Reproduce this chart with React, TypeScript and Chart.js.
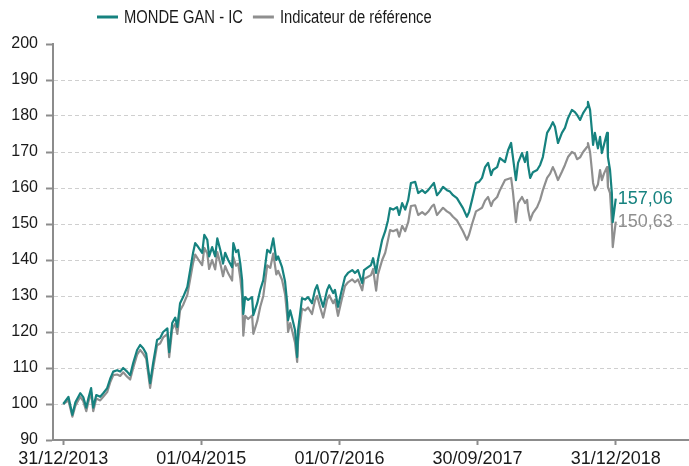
import React, { useEffect, useRef } from "react";
import { Chart, registerables } from "chart.js";

Chart.register(...registerables);

const seriesNames = ["MONDE GAN - IC", "Indicateur de référence"];
const seriesColors = ["#16827f", "#8f8f8f"];
const endLabels = ["157,06", "150,63"];

const tickDays = [0, 456, 913, 1369, 1826];
const tickLabels = ["31/12/2013", "01/04/2015", "01/07/2016", "30/09/2017", "31/12/2018"];

// days since 31/12/2013
const days = [
  0, 17, 30, 40, 56, 66, 76, 83, 92, 99, 109, 122, 132, 145, 155, 165, 178, 188, 198, 211, 221, 231, 244, 254, 264, 274, 287, 297, 310, 320, 330, 344, 350, 360, 370,
  377, 386, 396, 410, 419, 429, 436, 446, 459, 466, 476, 482, 492, 502, 509, 519, 528, 535, 545, 558, 562, 571, 578, 585, 591, 595, 601, 611, 624, 628, 641, 651, 661, 674, 684, 694, 704, 710, 723, 733,
  740, 743, 750, 756, 766, 773, 776, 789, 799, 809, 822, 832, 839, 849, 859, 872, 879, 892, 898, 908, 918, 931, 941, 955, 964, 974, 988, 994, 1004, 1017, 1024, 1034, 1040, 1054, 1064,
  1073, 1080, 1090, 1103, 1110, 1120, 1130, 1140, 1149, 1163, 1173, 1186, 1196, 1206, 1219, 1225, 1235, 1245, 1255, 1268, 1278, 1288, 1301, 1311, 1321, 1334, 1341, 1351, 1364, 1374, 1384, 1394, 1404, 1414, 1420, 1434, 1443,
  1460, 1470, 1480, 1486, 1496, 1503, 1516, 1526, 1533, 1536, 1543, 1552, 1566, 1576, 1585, 1599, 1609, 1618, 1625, 1635, 1648, 1658, 1668, 1681, 1691, 1698, 1708, 1718, 1731, 1734, 1741, 1747, 1751, 1757, 1767, 1774, 1780, 1787, 1797, 1800, 1807, 1813, 1816, 1826,
];

const fund = [
  100, 102, 97, 100.5, 103, 101.9, 99, 101.6, 104.4, 99, 102.5, 102, 103, 104.4, 107, 109, 109.4, 109, 110, 109, 108, 111.4, 115, 116.4, 115.5, 114, 105.8, 111.4, 117.8, 118.3, 120, 121, 114.4, 122.5, 124,
  121.4, 128, 129.7, 132.5, 137, 142, 144.7, 143.6, 142, 147, 145.6, 141, 143.6, 141, 146, 142.8, 139, 142, 140, 138, 144.7, 142.2, 142.8, 139, 134.4, 125, 129.7, 128.9, 129.7, 124.7, 128, 131.7, 134.4, 142.8, 142, 146, 140, 141, 138, 134,
  128, 123.3, 126, 124, 120.5, 113, 120.5, 129.4, 129, 129.7, 128, 131.7, 133, 129.7, 127, 131.7, 133, 130.8, 131.7, 127, 130.8, 135.3, 136.4, 137.2, 136.4, 137.2, 133.6, 137.2, 137.8, 138.6, 140.5, 136.4, 140, 145.6, 148,
  151, 154.4, 154, 154.7, 152.5, 155.8, 154, 156.7, 161.4, 161.7, 158.6, 159.4, 158.6, 159.4, 160.8, 161.4, 158, 159, 160.3, 159.4, 159, 158, 157.2, 155.8, 154.4, 152, 153.3, 156.7, 161.4, 161.7, 162.8, 165.8, 167, 163.6, 165, 165.8, 168.3,
  167.2, 170.5, 172.5, 168.6, 162.2, 167, 169.7, 167.2, 170, 166.4, 162.8, 164.4, 165, 166.4, 168.6, 175.3, 176.7, 178.3, 177, 172.5, 175.3, 176.7, 179.4, 181.7, 181.1, 180.3, 178.9, 180.8, 182.5, 183.9, 181.7, 176.1, 172, 175.3, 171, 174.2, 169.7, 172, 175.3, 168.6, 165, 158.6, 150.5, 157.06,
];

const bench = [
  100, 101, 96.5, 99.5, 102, 100.8, 98, 100.6, 103.2, 98, 101.5, 101, 102, 103.3, 106, 108, 108.2, 107.8, 108.8, 107.6, 106.8, 110, 113.7, 115, 114, 112.6, 104.5, 110, 116.3, 116.8, 118.5, 119.4, 113, 120.8, 122.3,
  119.5, 126, 127.5, 130.3, 134.5, 139.2, 141.5, 140.2, 138.6, 143.4, 141.8, 137.5, 140, 137.4, 142.2, 139, 135.5, 138.3, 136.3, 134.3, 140.8, 138.4, 139, 135, 130, 119, 124.5, 123.6, 124.6, 119.5, 123, 127, 130, 138.5, 137.8, 141.8, 136, 137, 134.5, 130.5,
  124.5, 120, 122.5, 120.5, 117, 111.7, 117.5, 126.5, 126, 126.8, 125, 128.8, 130, 126.8, 124, 129, 130.2, 128, 129, 124.5, 128.2, 132.8, 133.8, 134.6, 133.8, 134.6, 131.6, 134.8, 135.2, 135.8, 137.5, 131.5, 136, 140, 142,
  145.5, 148.3, 148, 148.5, 146.5, 149.5, 148, 150.5, 155, 155.2, 152.5, 153.3, 152.6, 153.4, 155, 155.4, 152.5, 153.5, 154.5, 153.5, 153, 152, 151, 149.5, 148, 145.6, 147, 150, 153.5, 154, 154.5, 156.5, 157.5, 155, 156.3, 157.5, 159.4,
  162.2, 162.5, 162.8, 159, 150.5, 155.8, 157.5, 155.8, 156.7, 154, 151, 153, 154.7, 156.7, 159.4, 162.8, 164, 165.8, 164.5, 162.2, 164.5, 166.4, 168.6, 170, 169.5, 168, 168.5, 170, 171.4, 172.5, 170, 165, 161.4, 159.4, 161, 165, 162.2, 164, 165.8, 160.3, 158.6, 150.3, 143.6, 150.63,
];

const Y_MIN = 90;
const Y_MAX = 200;
const Y_STEP = 10;

const AXIS_COLOR = "#8c8c8c";
const GRID_COLOR = "#cfcfcf";
const TEXT_COLOR = "#1a1a1a";
const FONT = "'Liberation Sans', Arial, sans-serif";

const legendPlugin = {
  id: "customLegend",
  afterDraw(chart: any) {
    const ctx = chart.ctx;
    const squeeze = 0.82;
    ctx.save();
    ctx.font = `18px ${FONT}`;
    ctx.textBaseline = "middle";
    ctx.textAlign = "left";
    let x = 97;
    const y = 18;
    seriesNames.forEach((name, i) => {
      ctx.strokeStyle = seriesColors[i];
      ctx.lineWidth = 3;
      ctx.beginPath();
      ctx.moveTo(x, y - 1);
      ctx.lineTo(x + 21, y - 1);
      ctx.stroke();
      x += 27;
      ctx.fillStyle = TEXT_COLOR;
      ctx.save();
      ctx.translate(x, y);
      ctx.scale(squeeze, 1);
      ctx.fillText(name, 0, 0);
      ctx.restore();
      x += ctx.measureText(name).width * squeeze + 10;
    });
    ctx.restore();
  },
};

const endLabelPlugin = {
  id: "endLabels",
  afterDraw(chart: any) {
    const ctx = chart.ctx;
    ctx.save();
    ctx.font = `18px ${FONT}`;
    ctx.textBaseline = "middle";
    ctx.textAlign = "left";
    chart.data.datasets.forEach((ds: any, i: number) => {
      const meta = chart.getDatasetMeta(i);
      const pt = meta.data[meta.data.length - 1];
      if (!pt) return;
      ctx.fillStyle = seriesColors[i];
      ctx.fillText(endLabels[i], pt.x + 2, pt.y);
    });
    ctx.restore();
  },
};

export default function App() {
  const canvasRef = useRef<HTMLCanvasElement | null>(null);

  useEffect(() => {
    if (!canvasRef.current) return;
    const chart = new Chart(canvasRef.current, {
      type: "line",
      data: {
        datasets: [
          {
            label: seriesNames[0],
            data: days.map((d, i) => ({ x: d, y: fund[i] })),
            borderColor: seriesColors[0],
            borderWidth: 2.2,
            pointRadius: 0,
            tension: 0,
            borderJoinStyle: "round",
          },
          {
            label: seriesNames[1],
            data: days.map((d, i) => ({ x: d, y: bench[i] })),
            borderColor: seriesColors[1],
            borderWidth: 2.2,
            pointRadius: 0,
            tension: 0,
            borderJoinStyle: "round",
          },
        ],
      },
      options: {
        animation: false,
        responsive: false,
        devicePixelRatio: 1,
        layout: { padding: { top: 44, left: 0, right: 0, bottom: 0 } },
        plugins: {
          legend: { display: false },
          tooltip: { enabled: false },
        },
        scales: {
          x: {
            type: "linear",
            min: -34,
            max: 2068,
            afterBuildTicks: (scale: any) => {
              scale.ticks = tickDays.map((v) => ({ value: v }));
            },
            afterFit: (scale: any) => {
              scale.height = 26;
            },
            ticks: {
              autoSkip: false,
              maxRotation: 0,
              padding: 3,
              color: TEXT_COLOR,
              font: { family: FONT, size: 18 },
              callback: (_v: any, i: number) => tickLabels[i] ?? "",
            },
            grid: {
              drawOnChartArea: false,
              drawTicks: true,
              tickLength: 5,
              tickColor: AXIS_COLOR,
              tickWidth: 2,
            },
            border: { display: true, color: AXIS_COLOR, width: 2 },
          },
          y: {
            type: "linear",
            min: Y_MIN,
            max: Y_MAX,
            afterFit: (scale: any) => {
              scale.width = 53;
            },
            ticks: {
              stepSize: Y_STEP,
              padding: 8,
              color: TEXT_COLOR,
              font: { family: FONT, size: 16 },
            },
            grid: {
              drawTicks: true,
              tickLength: 7,
              tickColor: AXIS_COLOR,
              tickWidth: 2,
              lineWidth: 1,
              color: (ctx: any) =>
                ctx.tick && (ctx.tick.value === Y_MAX || ctx.tick.value === Y_MIN)
                  ? "rgba(0,0,0,0)"
                  : GRID_COLOR,
            },
            border: { display: true, color: AXIS_COLOR, width: 2, dash: [4, 3] },
          },
        },
      },
      plugins: [legendPlugin, endLabelPlugin],
    } as any);
    return () => chart.destroy();
  }, []);

  return (
    <div style={{ position: "absolute", left: 0, top: 0, width: 689, height: 466, background: "#fff" }}>
      <canvas ref={canvasRef} width={689} height={466} style={{ display: "block" }} />
    </div>
  );
}
